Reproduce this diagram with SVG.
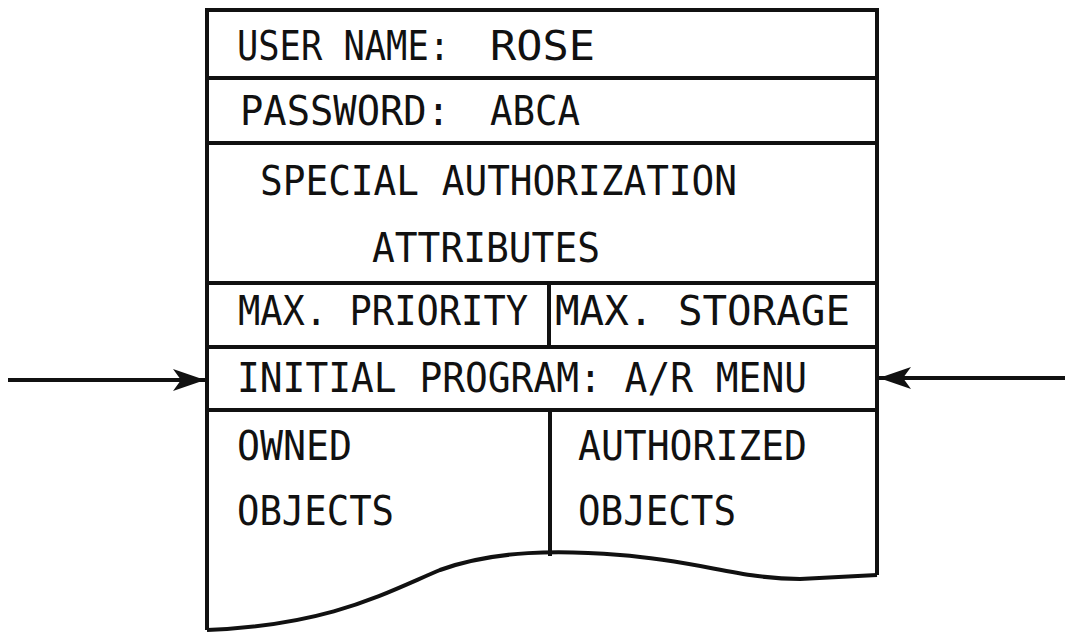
<svg xmlns="http://www.w3.org/2000/svg" width="1065" height="633" viewBox="0 0 1065 633">
<defs>
<style>
.t{font-family:"DejaVu Sans Mono","Liberation Mono",monospace;font-size:40px;fill:#111}
.ln{stroke:#111;stroke-width:4;fill:none}
</style>
<marker id="ah" viewBox="0 0 32 22" refX="32" refY="11" markerWidth="32" markerHeight="22" markerUnits="userSpaceOnUse" orient="auto">
<path d="M0,0 L32,11 L0,22 L8,11 Z" fill="#111"/>
</marker>
</defs>
<rect width="1065" height="633" fill="#fff"/>
<g id="record">
<path class="ln" d="M207,630 L207,10 L877,10 L877,575"/>
<path class="ln" d="M207,630 C330,625 385,593 440,570 C495,550 560,550 620,555 C700,561 740,579 800,579 L877,575"/>
</g>
<g id="user-name">
<line class="ln" x1="207" y1="78" x2="877" y2="78"/>
<text class="t" x="237" y="60" textLength="213" lengthAdjust="spacingAndGlyphs">USER NAME:</text>
<text class="t" x="490" y="60" textLength="105" lengthAdjust="spacingAndGlyphs">ROSE</text>
</g>
<g id="password">
<line class="ln" x1="207" y1="143" x2="877" y2="143"/>
<text class="t" x="240" y="125" textLength="210" lengthAdjust="spacingAndGlyphs">PASSWORD:</text>
<text class="t" x="490" y="125" textLength="90" lengthAdjust="spacingAndGlyphs">ABCA</text>
</g>
<g id="special-authorization">
<line class="ln" x1="207" y1="283" x2="877" y2="283"/>
<text class="t" x="260" y="195" textLength="477" lengthAdjust="spacingAndGlyphs">SPECIAL AUTHORIZATION</text>
<text class="t" x="372" y="262" textLength="228" lengthAdjust="spacingAndGlyphs">ATTRIBUTES</text>
</g>
<g id="max-priority">
<line class="ln" x1="549" y1="283" x2="549" y2="347"/>
<text class="t" x="238" y="325" textLength="290" lengthAdjust="spacingAndGlyphs">MAX. PRIORITY</text>
</g>
<g id="max-storage">
<text class="t" x="555" y="325" textLength="295" lengthAdjust="spacingAndGlyphs">MAX. STORAGE</text>
</g>
<g id="initial-program">
<line class="ln" x1="207" y1="347" x2="877" y2="347"/>
<line class="ln" x1="207" y1="410" x2="877" y2="410"/>
<text class="t" x="237" y="392" textLength="570" lengthAdjust="spacingAndGlyphs">INITIAL PROGRAM: A/R MENU</text>
</g>
<g id="owned-objects">
<text class="t" x="237" y="460" textLength="115" lengthAdjust="spacingAndGlyphs">OWNED</text>
<text class="t" x="237" y="525" textLength="157" lengthAdjust="spacingAndGlyphs">OBJECTS</text>
</g>
<g id="authorized-objects">
<line class="ln" x1="550" y1="410" x2="550" y2="556"/>
<text class="t" x="578" y="460" textLength="229" lengthAdjust="spacingAndGlyphs">AUTHORIZED</text>
<text class="t" x="578" y="525" textLength="158" lengthAdjust="spacingAndGlyphs">OBJECTS</text>
</g>
<g id="connectors">
<line class="ln" x1="8" y1="380" x2="205" y2="380" marker-end="url(#ah)"/>
<line class="ln" x1="1065" y1="378" x2="879" y2="378" marker-end="url(#ah)"/>
</g>
</svg>
